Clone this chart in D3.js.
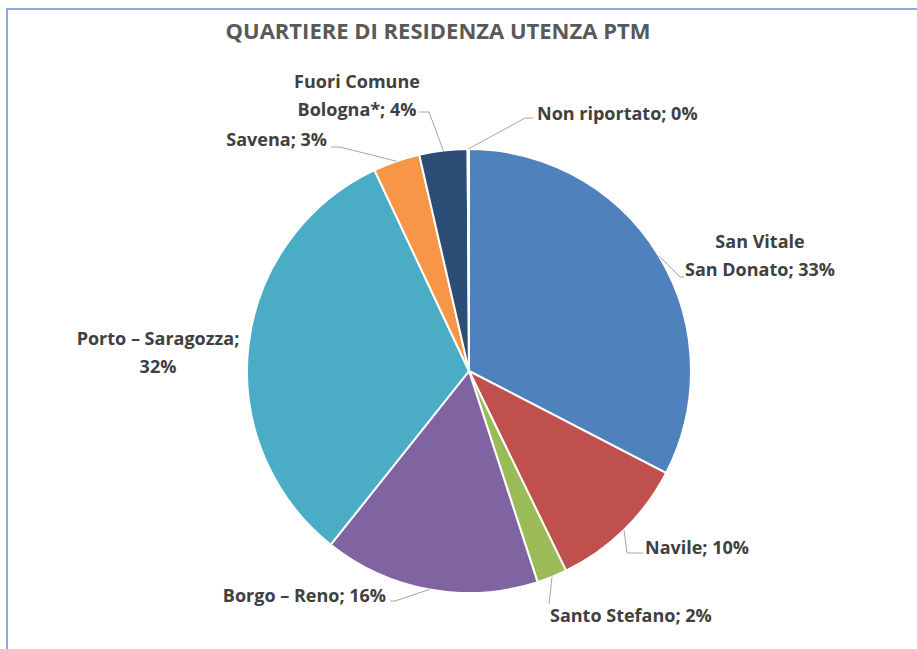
<!DOCTYPE html>
<html>
<head>
<meta charset="utf-8">
<script src="https://cdn.jsdelivr.net/npm/d3@7"></script>
<style>
  body { margin: 0; background: #fff; }
  text { font-family: "Open Sans", sans-serif; font-weight: bold; }
</style>
</head>
<body>
<svg id="chart"></svg>
<script>
const names = ["San Vitale San Donato", "Navile", "Santo Stefano", "Borgo – Reno",
  "Porto – Saragozza", "Savena", "Fuori Comune Bologna*", "Non riportato"];
const values = [32.6, 10.2, 2.2, 15.7, 32.3, 3.4, 3.5, 0.1];
// label text split into lines, {p} = percentage
const labelLines = [
  ["San Vitale", "San Donato; {p}"],
  ["Navile; {p}"],
  ["Santo Stefano; {p}"],
  ["Borgo – Reno; {p}"],
  ["Porto – Saragozza;", "{p}"],
  ["Savena; {p}"],
  ["Fuori Comune", "Bologna*; {p}"],
  ["Non riportato; {p}"]
];
const colors = ["#4F81BD", "#C0504D", "#9BBB59", "#8064A2", "#4BACC6", "#F79646", "#2C4D75", "#7F7F7F"];

const width = 917;
const height = 649;
const cx = 469, cy = 371, radius = 222;

// where each label sits and how its leader line bends
const labelLayout = [
  { x: 760, y: 248, anchor: "middle", leader: [[680, 277], [684, 277]] },
  { x: 645, y: 554, anchor: "start", leader: [[627, 553], [643, 553]] },
  { x: 550, y: 622, anchor: "start", leader: [[549, 604]] },
  { x: 386, y: 602, anchor: "end", leader: [[395, 601], [390, 601]] },
  { x: 158, y: 345, anchor: "middle", leader: null },
  { x: 327, y: 146, anchor: "end", leader: [[340, 147], [331, 147]] },
  { x: 357, y: 88, anchor: "middle", leader: [[429, 112], [419, 112]] },
  { x: 537, y: 120, anchor: "start", leader: [[525, 118], [533, 118]] }
];

const svg = d3.select("#chart")
  .attr("width", width)
  .attr("height", height);

// frame
svg.append("path")
  .attr("d", `M7,${height} L7,9 L${width},9`)
  .attr("fill", "none")
  .attr("stroke", "#8EA9DB")
  .attr("stroke-width", 2);

svg.append("text")
  .attr("x", 438)
  .attr("y", 39)
  .attr("text-anchor", "middle")
  .attr("fill", "#595959")
  .style("font-size", "22px")
  .text("QUARTIERE DI RESIDENZA UTENZA PTM");

const data = names.map((n, i) => ({ name: n, value: values[i], i }));

const pie = d3.pie().sort(null).value(d => d.value);
const arcs = pie(data);

const arc = d3.arc().innerRadius(0).outerRadius(radius);
const edge = d3.arc().innerRadius(radius).outerRadius(radius);

const g = svg.append("g").attr("transform", `translate(${cx},${cy})`);

g.selectAll("path.slice")
  .data(arcs)
  .enter()
  .append("path")
  .attr("class", "slice")
  .attr("d", arc)
  .attr("fill", d => colors[d.data.i])
  .attr("stroke", "#fff")
  .attr("stroke-width", 2);

// leader lines
arcs.forEach(d => {
  const lay = labelLayout[d.data.i];
  if (!lay.leader) return;
  const c = edge.centroid(d);
  const pts = [[c[0] + cx, c[1] + cy], ...lay.leader];
  svg.append("polyline")
    .attr("points", pts.map(p => p.join(",")).join(" "))
    .attr("fill", "none")
    .attr("stroke", "#A6A6A6")
    .attr("stroke-width", 1);
});

// labels
arcs.forEach(d => {
  const lay = labelLayout[d.data.i];
  const pct = Math.round(d.data.value) + "%";
  const t = svg.append("text")
    .attr("x", lay.x)
    .attr("y", lay.y)
    .attr("text-anchor", lay.anchor)
    .attr("fill", "#404040")
    .style("font-size", "18px");
  labelLines[d.data.i].forEach((line, k) => {
    t.append("tspan")
      .attr("x", lay.x)
      .attr("dy", k === 0 ? 0 : 28)
      .text(line.replace("{p}", pct));
  });
});
</script>
</body>
</html>
